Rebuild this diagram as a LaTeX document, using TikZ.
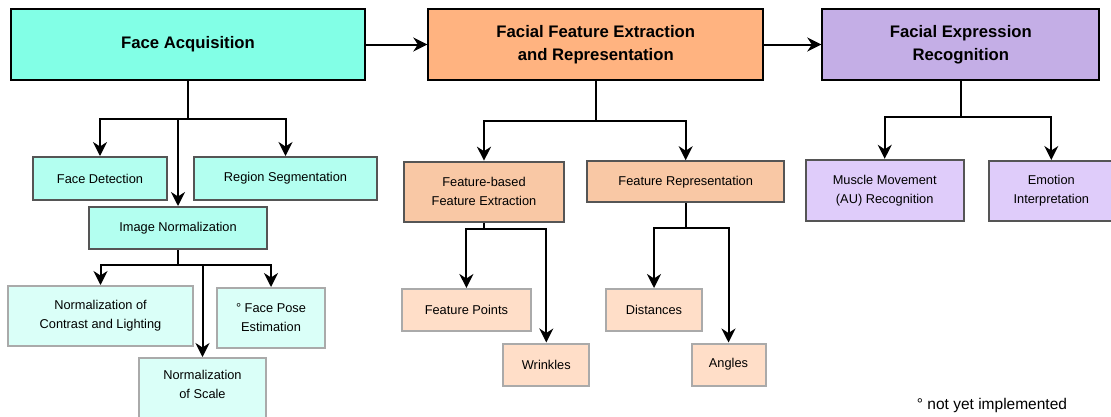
\documentclass[tikz,border=0pt]{standalone}
\usepackage{fontspec}
\setmainfont{Liberation Sans}
\usetikzlibrary{arrows.meta}
\definecolor{tealA}{HTML}{82FFE6}
\definecolor{tealB}{HTML}{B3FFF0}
\definecolor{tealC}{HTML}{DAFFF8}
\definecolor{orA}{HTML}{FFB380}
\definecolor{orB}{HTML}{F9C8A5}
\definecolor{orC}{HTML}{FFDEC8}
\definecolor{puA}{HTML}{C4AEE6}
\definecolor{puB}{HTML}{DFCCFA}
\definecolor{bordB}{HTML}{555555}
\definecolor{bordC}{HTML}{AAAAAA}
\tikzset{
  topbox/.style={draw=black, line width=2pt, align=center, inner sep=0pt,
    font=\fontsize{16.7}{23}\selectfont\bfseries},
  midbox/.style={draw=bordB, line width=2pt, align=center, inner sep=0pt,
    font=\fontsize{12.8}{19}\selectfont},
  lowbox/.style={draw=bordC, line width=2pt, align=center, inner sep=0pt,
    font=\fontsize{12.8}{19}\selectfont},
  plain/.style={align=center, inner sep=0pt, font=\fontsize{12.8}{19}\selectfont},
  conn/.style={line width=2pt},
  arr/.style={line width=2pt, -{Stealth[length=14pt,width=14pt,inset=4.5pt]}},
}
\begin{document}
\begin{tikzpicture}[x=1pt,y=-1pt]
\useasboundingbox (0,0) rectangle (1111,416);
\clip (0,0) rectangle (1111,416);
\fill[white] (0,0) rectangle (1111,416);

% top level
\node[topbox, fill=tealA, minimum width=354, minimum height=71] (fa) at (188,44.5) {Face Acquisition};
\node[topbox, fill=orA, minimum width=335, minimum height=71] (ffe) at (595.8,44.5) {Facial Feature Extraction\\and Representation};
\node[topbox, fill=puA, minimum width=277, minimum height=71] (fer) at (960.8,44.5) {Facial Expression\\Recognition};
\draw[arr] (fa.east) -- (ffe.west);
\draw[arr] (ffe.east) -- (fer.west);

% face acquisition subtree
\node[midbox, fill=tealB, minimum width=134, minimum height=43] (fd) at (100,178.5) {Face Detection};
\node[midbox, fill=tealB, minimum width=183, minimum height=43] (rs) at (285.5,178.5) {Region Segmentation};
\node[midbox, fill=tealB, minimum width=178, minimum height=42] (inorm) at (178,228) {Image Normalization};
\coordinate (j1) at (188,119);
\draw[conn] (fa.south) -- (j1);
\draw[arr] (j1) -| (fd.north);
\draw[arr] (j1) -| (rs.north);
\draw[arr] (j1) -| (inorm.north);

\node[lowbox, fill=tealC, minimum width=185, minimum height=60] (nc) at (100.5,316) {Normalization of\\Contrast and Lighting};
\node[lowbox, fill=tealC, minimum width=108, minimum height=60] (fp) at (271,318) {\textdegree{} Face Pose\\Estimation};
\node[lowbox, fill=tealC, minimum width=127, minimum height=80, anchor=north] (nsbox) at (202.5,357) {};
\node[plain] (ns) at (202.5,384) {Normalization\\of Scale};
\coordinate (j2) at (178,265);
\draw[conn] (inorm.south) -- (j2);
\draw[arr] (j2) -| (nc.north);
\draw[arr] (j2) -| (fp.north);
\draw[arr] (j2) -| (nsbox.north);

% feature extraction subtree
\node[midbox, fill=orB, minimum width=160, minimum height=60] (fb) at (484,191.7) {Feature-based\\Feature Extraction};
\node[midbox, fill=orB, minimum width=197, minimum height=41] (fr) at (685.7,181.7) {Feature Representation};
\coordinate (j3) at (595.8,121);
\draw[conn] (ffe.south) -- (j3);
\draw[arr] (j3) -| (fb.north);
\draw[arr] (j3) -| (fr.north);

\node[lowbox, fill=orC, minimum width=129, minimum height=42] (fpts) at (466.4,310) {Feature Points};
\node[lowbox, fill=orC, minimum width=86, minimum height=42] (wr) at (546.3,364.5) {Wrinkles};
\coordinate (j4) at (484,229.3);
\draw[conn] (fb.south) -- (j4);
\draw[arr] (j4) -| (fpts.north);
\draw[arr] (j4) -| (wr.north);

\node[lowbox, fill=orC, minimum width=96, minimum height=42] (dist) at (654,310) {Distances};
\node[lowbox, fill=orC, minimum width=74, minimum height=42] (ang) at (728.5,364.5) {Angles};
\coordinate (j5) at (685.7,228);
\draw[conn] (fr.south) -- (j5);
\draw[arr] (j5) -| (dist.north);
\draw[arr] (j5) -| (ang.north);

% recognition subtree
\node[midbox, fill=puB, minimum width=158, minimum height=61] (mm) at (884.7,190.3) {Muscle Movement\\(AU) Recognition};
\node[midbox, fill=puB, minimum width=125, minimum height=60] (ei) at (1051.3,191) {Emotion\\Interpretation};
\coordinate (j6) at (960.8,117);
\draw[conn] (fer.south) -- (j6);
\draw[arr] (j6) -| (mm.north);
\draw[arr] (j6) -| (ei.north);

% footnote
\node[plain, font=\fontsize{15.5}{19}\selectfont] (note) at (992,405) {\textdegree{} not yet implemented};
\end{tikzpicture}
\end{document}
